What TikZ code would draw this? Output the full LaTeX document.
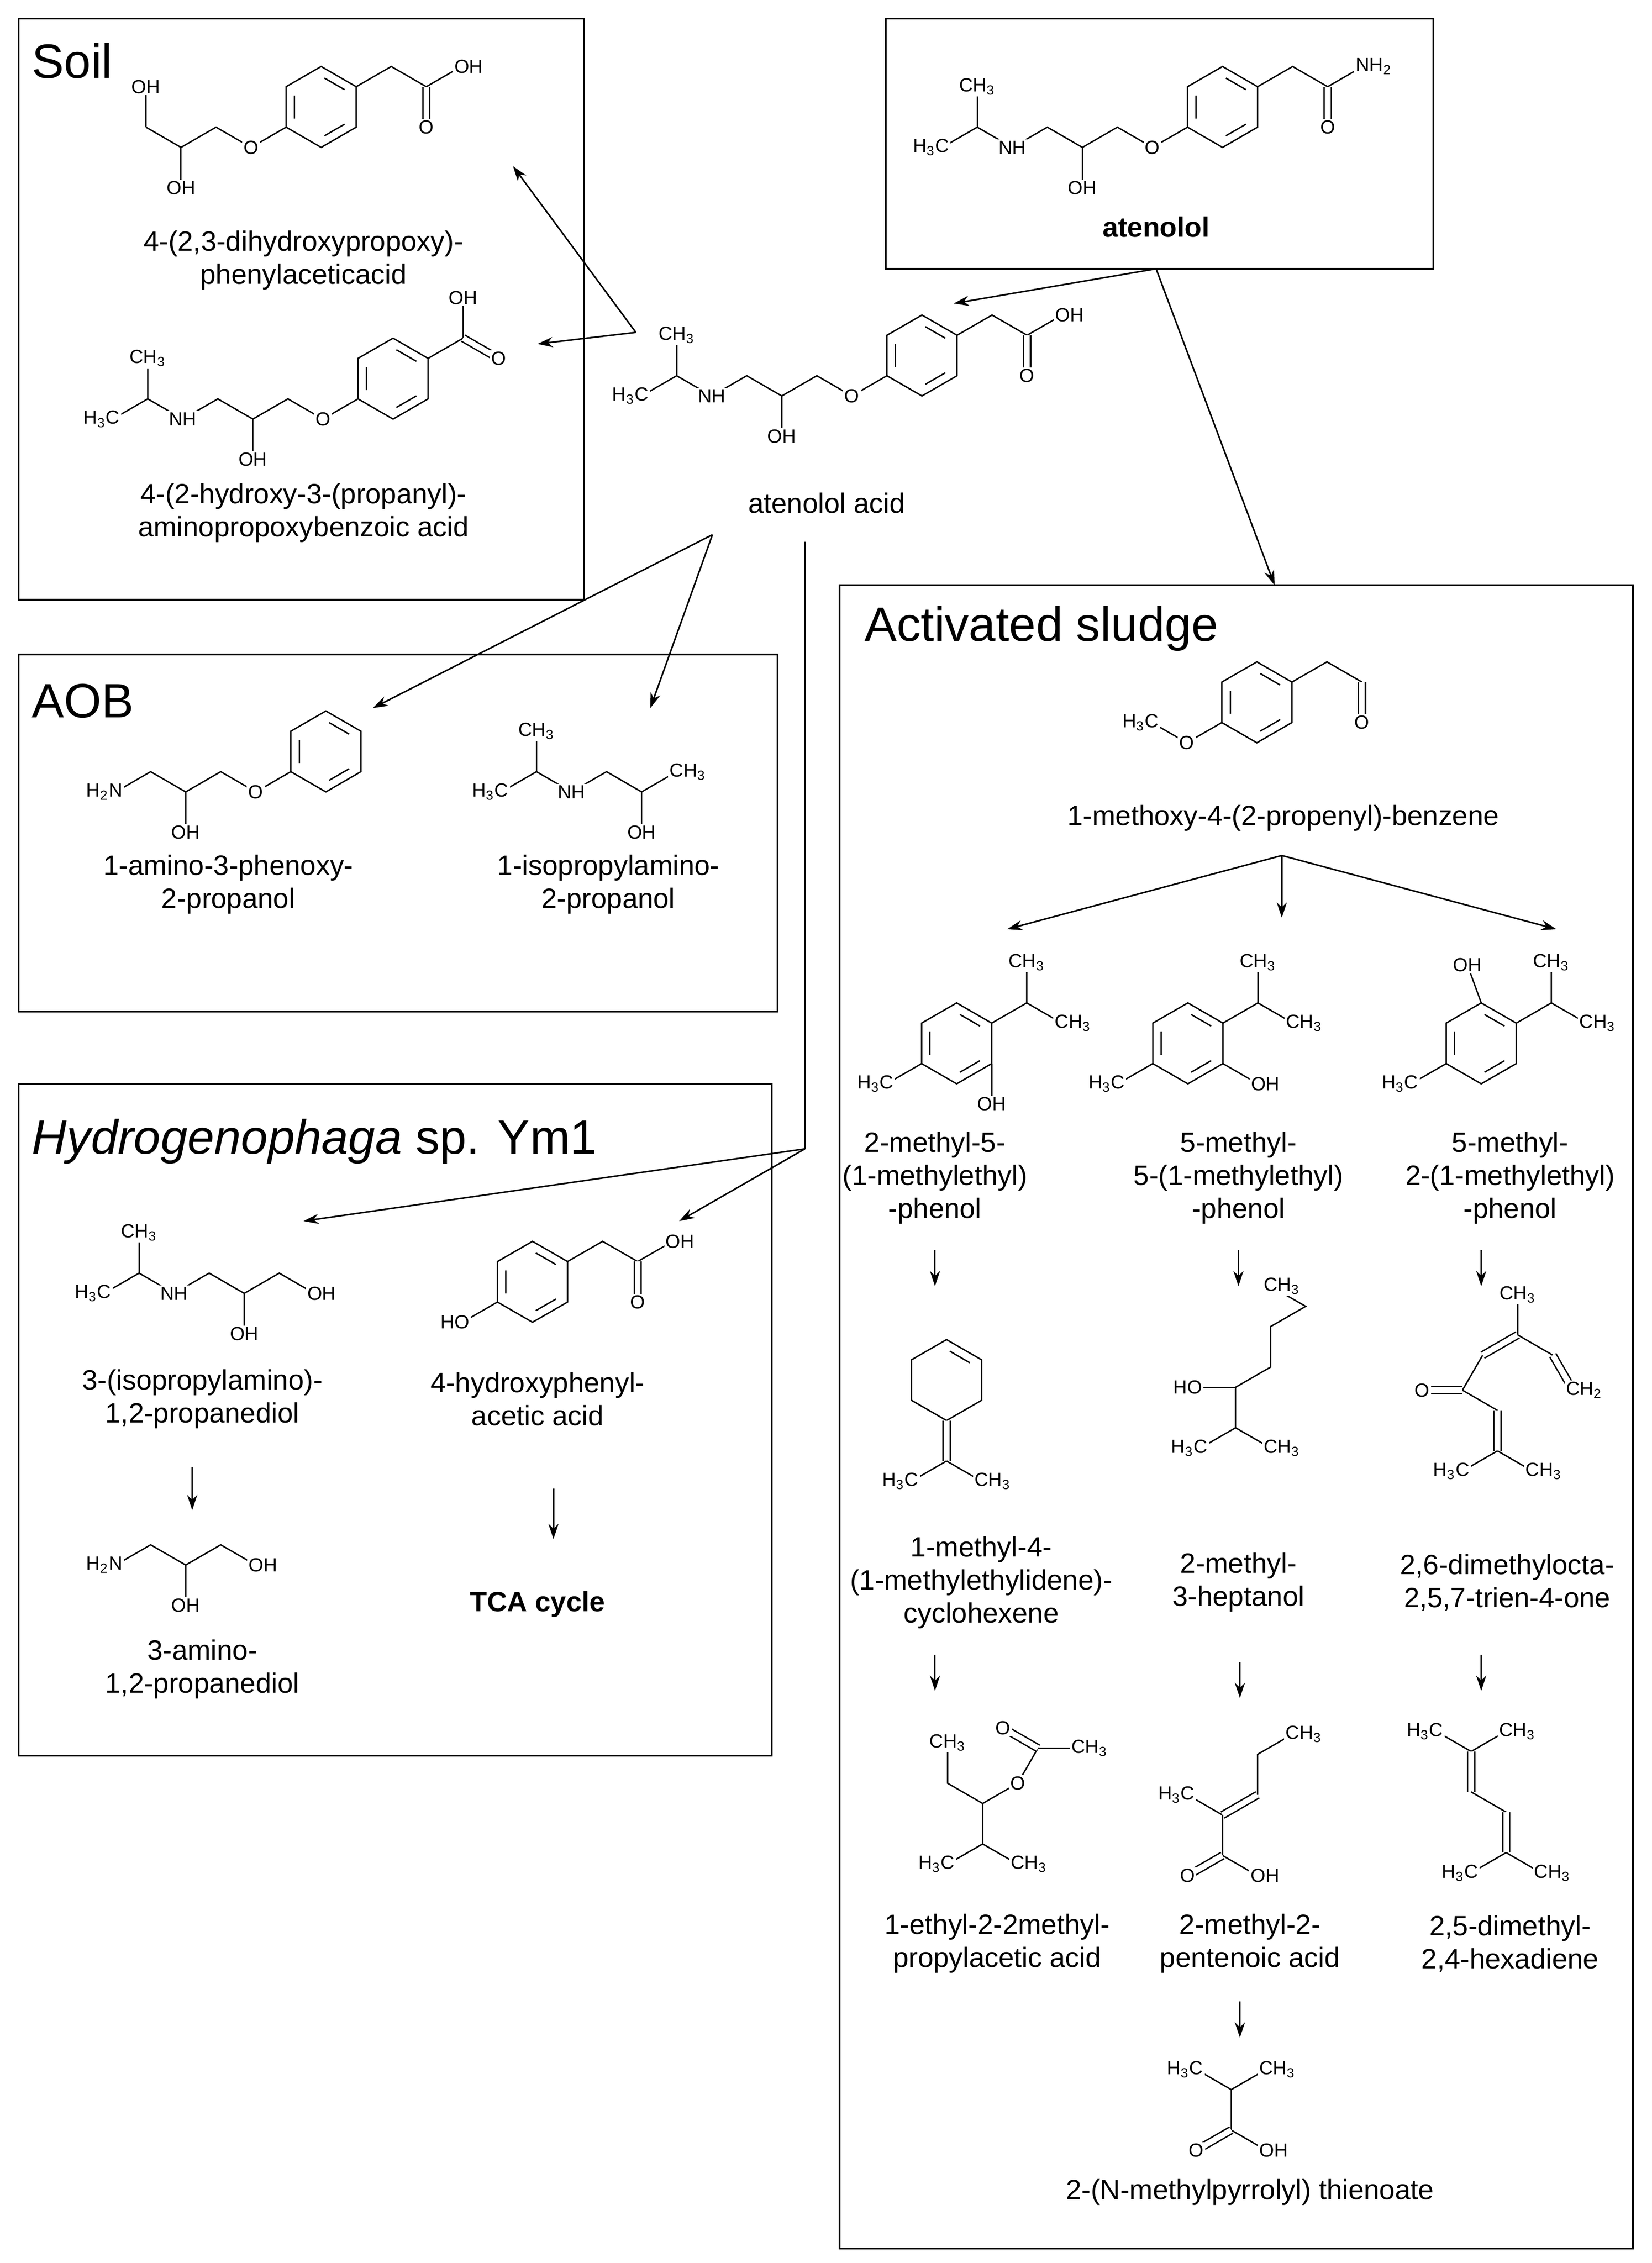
\documentclass[tikz,border=0pt]{standalone}
\usepackage{fontspec}
\setmainfont{Liberation Sans}
\usetikzlibrary{arrows.meta,calc}
\def\L{28}
\newcommand\ring[2]{%
 \foreach \k in {1,...,6}{\coordinate (#1-\k) at ($(#1)+({30+60*(\k-1)}:28)$);}
 \draw (#1-1)--(#1-2)--(#1-3)--(#1-4)--(#1-5)--(#1-6)--cycle;
 \foreach \i/\j in {#2}{\draw[shorten <=1.5pt,shorten >=1.5pt] ($(#1)!0.76!(#1-\i)$) -- ($(#1)!0.76!(#1-\j)$);}}
\newcommand\dbl[2]{\draw[double,double distance=2.2pt] (#1) -- (#2);}
\newcommand\at[3][]{\node[atm,#1] at (#2) {#3};}
\newcommand\ipa[1]{\draw (0,0) coordinate(#11) -- ++(30:\L) coordinate(#12) -- ++(-30:\L) coordinate(#13) -- ++(30:\L) coordinate(#14) -- ++(-30:\L) coordinate(#15); \draw (#12) -- ++(90:\L) coordinate(#19);}
\newcommand\ipalab[1]{\at[lt]{#11}{H\textsubscript{3}C}\at{#19}{CH\textsubscript{3}}\at{#13}{NH}}
\newcommand\hh{H\textsubscript{3}C}
\newcommand\ch{CH\textsubscript{3}}
\begin{document}
\begin{tikzpicture}[x=0.02cm,y=-0.02cm,
  box/.style={draw,line width=0.7pt},
  lbl/.style={align=center,font=\fontsize{11}{13}\selectfont},
  ttl/.style={anchor=west,font=\fontsize{19}{21}\selectfont},
  atm/.style={fill=white,inner sep=0.6pt,font=\fontsize{7.5}{8}\selectfont},
  lt/.style={anchor=east,xshift=3.6pt},
  rt/.style={anchor=west,xshift=-3.6pt},
  mol/.style={shift={#1},y=0.02cm,line width=0.55pt},
  arr/.style={-{Stealth[length=6pt,width=4pt]},line width=0.6pt}]
\useasboundingbox (0,0) rectangle (1143,1566);
% boxes
\draw[box] (13,13) rectangle (404,415);
\draw[box] (613,13) rectangle (992,186);
\draw[box] (13,453) rectangle (538,700);
\draw[box] (13,750) rectangle (534,1215);
\draw[box] (581,405) rectangle (1130,1556);
% titles
\node[ttl] (tsoil) at (16,42) {Soil};
\node[ttl] (taob) at (16,485) {AOB};
\node[ttl] (thyd) at (16,790) {\textit{Hydrogenophaga} sp. Ym1};
\node[ttl] (tas) at (592,435) {Activated sludge};
% atenolol
\begin{scope}[mol={(652,102)}]
\ipa{A}
\draw (A5) -- ++(30:\L) coordinate(A6) -- ++(-30:\L) coordinate(A7) -- ++(30:\L) coordinate(A8);
\draw (A5) -- ++(-90:\L) coordinate(A10);
\coordinate (AR) at ($(A8)+(30:\L)$); \ring{AR}{1/2,3/4,5/6}
\draw (AR-1) -- ++(30:\L) coordinate(A11) -- ++(-30:\L) coordinate(A12) -- ++(30:\L) coordinate(A13);
\coordinate (A14) at ($(A12)+(-90:\L)$); \dbl{A12}{A14}
\ipalab{A}\at{A10}{OH}\at{A7}{O}\at{A14}{O}\at[rt]{A13}{NH\textsubscript{2}}
\end{scope}
\node[lbl,font=\fontsize{11}{13}\selectfont\bfseries] (l1) at (800,157) {atenolol};
% atenolol acid
\begin{scope}[mol={(444,274)}]
\ipa{B}
\draw (B5) -- ++(30:\L) coordinate(B6) -- ++(-30:\L) coordinate(B7) -- ++(30:\L) coordinate(B8);
\draw (B5) -- ++(-90:\L) coordinate(B10);
\coordinate (BR) at ($(B8)+(30:\L)$); \ring{BR}{1/2,3/4,5/6}
\draw (BR-1) -- ++(30:\L) coordinate(B11) -- ++(-30:\L) coordinate(B12) -- ++(30:\L) coordinate(B13);
\coordinate (B14) at ($(B12)+(-90:\L)$); \dbl{B12}{B14}
\ipalab{B}\at{B10}{OH}\at{B7}{O}\at{B14}{O}\at[rt]{B13}{OH}
\end{scope}
\node[lbl] (l2) at (572,348) {atenolol acid};
% soil 1
\begin{scope}[mol={(101,88)}]
\draw (0,0) coordinate(D1) -- ++(-30:\L) coordinate(D2) -- ++(30:\L) coordinate(D3) -- ++(-30:\L) coordinate(D4) -- ++(30:\L) coordinate(D5);
\draw (D1) -- ++(90:\L) coordinate(D0);
\draw (D2) -- ++(-90:\L) coordinate(D6);
\coordinate (DR) at ($(D5)+(30:\L)$); \ring{DR}{1/2,3/4,5/6}
\draw (DR-1) -- ++(30:\L) coordinate(D11) -- ++(-30:\L) coordinate(D12) -- ++(30:\L) coordinate(D13);
\coordinate (D14) at ($(D12)+(-90:\L)$); \dbl{D12}{D14}
\at{D0}{OH}\at{D6}{OH}\at{D4}{O}\at{D14}{O}\at[rt]{D13}{OH}
\end{scope}
\node[lbl] (ls1) at (210,180) {4-(2,3-dihydroxypropoxy)-\\phenylaceticacid};
% soil 2
\begin{scope}[mol={(78,290)}]
\ipa{C}
\draw (C5) -- ++(30:\L) coordinate(C6) -- ++(-30:\L) coordinate(C7) -- ++(30:\L) coordinate(C8);
\draw (C5) -- ++(-90:\L) coordinate(C10);
\coordinate (CR) at ($(C8)+(30:\L)$); \ring{CR}{1/2,3/4,5/6}
\draw (CR-1) -- ++(30:\L) coordinate(C11) -- ++(90:\L) coordinate(C13);
\coordinate (C12) at ($(C11)+(-30:\L)$); \dbl{C11}{C12}
\ipalab{C}\at{C10}{OH}\at{C7}{O}\at[rt]{C12}{O}\at{C13}{OH}
\end{scope}
\node[lbl] (ls2) at (210,355) {4-(2-hydroxy-3-(propanyl)-\\aminopropoxybenzoic acid};
% AOB 1
\begin{scope}[mol={(80,548)}]
\draw (0,0) coordinate(E1) -- ++(30:\L) coordinate(E2) -- ++(-30:\L) coordinate(E3) -- ++(30:\L) coordinate(E4) -- ++(-30:\L) coordinate(E5) -- ++(30:\L) coordinate(E6);
\draw (E3) -- ++(-90:\L) coordinate(E7);
\coordinate (ER) at ($(E6)+(30:\L)$); \ring{ER}{1/2,3/4,5/6}
\at[lt]{E1}{H\textsubscript{2}N}\at{E7}{OH}\at{E5}{O}
\end{scope}
\node[lbl] (la1) at (158,612) {1-amino-3-phenoxy-\\2-propanol};
% AOB 2
\begin{scope}[mol={(347,548)}]
\ipa{F}
\draw (F5) -- ++(30:\L) coordinate(F6);
\draw (F5) -- ++(-90:\L) coordinate(F7);
\ipalab{F}\at[rt]{F6}{\ch}\at{F7}{OH}
\end{scope}
\node[lbl] (la2) at (421,612) {1-isopropylamino-\\2-propanol};
% Hydrogenophaga 1
\begin{scope}[mol={(72,895)}]
\ipa{G}
\draw (G5) -- ++(-90:\L) coordinate(G7);
\draw (G5) -- ++(30:\L) coordinate(G6) -- ++(-30:\L) coordinate(G8);
\ipalab{G}\at{G7}{OH}\at[rt]{G8}{OH}
\end{scope}
\node[lbl] (lh1) at (140,968) {3-(isopropylamino)-\\1,2-propanediol};
% Hydrogenophaga 2
\begin{scope}[mol={(320,915)}]
\coordinate (H1) at (0,0); \coordinate (H2) at (30:\L); \draw (H1) -- (H2);
\coordinate (HR) at ($(H2)+(30:\L)$); \ring{HR}{1/2,3/4,5/6}
\draw (HR-1) -- ++(30:\L) coordinate(H11) -- ++(-30:\L) coordinate(H12) -- ++(30:\L) coordinate(H13);
\coordinate (H14) at ($(H12)+(-90:\L)$); \dbl{H12}{H14}
\at[lt]{H1}{HO}\at{H14}{O}\at[rt]{H13}{OH}
\end{scope}
\node[lbl] (lh2) at (372,968) {4-hydroxyphenyl-\\acetic acid};
% Hydrogenophaga 3
\begin{scope}[mol={(80,1083)}]
\draw (0,0) coordinate(I1) -- ++(30:\L) coordinate(I2) -- ++(-30:\L) coordinate(I3) -- ++(30:\L) coordinate(I4) -- ++(-30:\L) coordinate(I5);
\draw (I3) -- ++(-90:\L) coordinate(I6);
\at[lt]{I1}{H\textsubscript{2}N}\at{I6}{OH}\at[rt]{I5}{OH}
\end{scope}
\node[lbl] (lh3) at (140,1155) {3-amino-\\1,2-propanediol};
\node[lbl,font=\fontsize{11}{13}\selectfont\bfseries] (tca) at (372,1110) {TCA cycle};
% activated sludge top
\begin{scope}[mol={(797,500)}]
\draw (0,0) coordinate(J1) -- ++(-30:\L) coordinate(J2) -- ++(30:\L) coordinate(J3);
\coordinate (JR) at ($(J3)+(30:\L)$); \ring{JR}{1/2,3/4,5/6}
\draw (JR-1) -- ++(30:\L) coordinate(J4) -- ++(-30:\L) coordinate(J5);
\coordinate (J6) at ($(J5)+(-90:\L)$); \dbl{J5}{J6}
\at[lt]{J1}{\hh}\at{J2}{O}\at{J6}{O}
\end{scope}
\node[lbl] (lt0) at (888,566) {1-methoxy-4-(2-propenyl)-benzene};
% phenol 1
\begin{scope}[mol={(662,722)}]
\coordinate (K0) at (0,0); \ring{K0}{1/2,3/4,5/6}
\draw (K0-1) -- ++(30:\L) coordinate(K1) -- ++(90:\L) coordinate(K2);
\draw (K1) -- ++(-30:\L) coordinate(K3);
\draw (K0-4) -- ++(210:\L) coordinate(K4);
\draw (K0-6) -- ++(-90:\L) coordinate(K5);
\at{K2}{\ch}\at[rt]{K3}{\ch}\at[lt]{K4}{\hh}\at{K5}{OH}
\end{scope}
\node[lbl] (lp1) at (647,815) {2-methyl-5-\\(1-methylethyl)\\-phenol};
% phenol 2
\begin{scope}[mol={(822,722)}]
\coordinate (L0) at (0,0); \ring{L0}{1/2,3/4,5/6}
\draw (L0-1) -- ++(30:\L) coordinate(L1) -- ++(90:\L) coordinate(L2);
\draw (L1) -- ++(-30:\L) coordinate(L3);
\draw (L0-4) -- ++(210:\L) coordinate(L4);
\draw (L0-6) -- ++(-30:\L) coordinate(L5);
\at{L2}{\ch}\at[rt]{L3}{\ch}\at[lt]{L4}{\hh}\at[rt]{L5}{OH}
\end{scope}
\node[lbl] (lp2) at (857,815) {5-methyl-\\5-(1-methylethyl)\\-phenol};
% phenol 3
\begin{scope}[mol={(1025,722)}]
\coordinate (M0) at (0,0); \ring{M0}{1/2,3/4,5/6}
\draw (M0-1) -- ++(30:\L) coordinate(M1) -- ++(90:\L) coordinate(M2);
\draw (M1) -- ++(-30:\L) coordinate(M3);
\draw (M0-4) -- ++(210:\L) coordinate(M4);
\draw (M0-2) -- ++(110:\L) coordinate(M5);
\at{M2}{\ch}\at[rt]{M3}{\ch}\at[lt]{M4}{\hh}\at{M5}{OH}
\end{scope}
\node[lbl] (lp3) at (1045,815) {5-methyl-\\2-(1-methylethyl)\\-phenol};
% cyclohexene
\begin{scope}[mol={(655,955)}]
\coordinate (N0) at (0,0); \ring{N0}{1/2}
\coordinate (N1) at ($(N0-5)+(-90:\L)$); \dbl{N0-5}{N1}
\draw (N1) -- ++(210:\L) coordinate(N2);
\draw (N1) -- ++(-30:\L) coordinate(N3);
\at[lt]{N2}{\hh}\at[rt]{N3}{\ch}
\end{scope}
\node[lbl] (lc1) at (679,1095) {1-methyl-4-\\(1-methylethylidene)-\\cyclohexene};
% heptanol
\begin{scope}[mol={(855,960)}]
\coordinate (O1) at (0,0);
\draw (O1) -- ++(180:\L) coordinate(O2);
\draw (O1) -- ++(-90:\L) coordinate(O3) -- ++(210:\L) coordinate(O4);
\draw (O3) -- ++(-30:\L) coordinate(O5);
\draw (O1) -- ++(30:\L) coordinate(O6) -- ++(90:\L) coordinate(O7) -- ++(30:\L) coordinate(O8) -- ++(150:\L) coordinate(O9);
\at[lt]{O2}{HO}\at[lt]{O4}{\hh}\at[rt]{O5}{\ch}\at[rt]{O9}{\ch}
\end{scope}
\node[lbl] (lc2) at (857,1095) {2-methyl-\\3-heptanol};
% trienone
\begin{scope}[mol={(1012,962)}]
\coordinate (Q0) at (0,0);
\coordinate (QO) at (180:\L); \dbl{Q0}{QO}
\draw (Q0) -- ++(60:\L) coordinate(Q1);
\coordinate (Q2) at ($(Q1)+(30:\L)$); \dbl{Q1}{Q2}
\draw (Q2) -- ++(90:\L) coordinate(Q9);
\draw (Q2) -- ++(-30:\L) coordinate(Q3);
\coordinate (Q4) at ($(Q3)+(-60:\L)$); \dbl{Q3}{Q4}
\draw (Q0) -- ++(-30:\L) coordinate(Q5);
\coordinate (Q6) at ($(Q5)+(-90:\L)$); \dbl{Q5}{Q6}
\draw (Q6) -- ++(210:\L) coordinate(Q7);
\draw (Q6) -- ++(-30:\L) coordinate(Q8);
\at{QO}{O}\at{Q9}{\ch}\at[rt]{Q4}{CH\textsubscript{2}}\at[lt]{Q7}{\hh}\at[rt]{Q8}{\ch}
\end{scope}
\node[lbl] (lc3) at (1043,1095) {2,6-dimethylocta-\\2,5,7-trien-4-one};
% ester
\begin{scope}[mol={(680,1248)}]
\coordinate (R0) at (0,0);
\draw (R0) -- ++(150:\L) coordinate(R1) -- ++(90:\L) coordinate(R2);
\draw (R0) -- ++(30:\L) coordinate(R3) -- ++(60:\L) coordinate(R4) -- ++(0:\L) coordinate(R5);
\coordinate (R6) at ($(R4)+(150:\L)$); \dbl{R4}{R6}
\draw (R0) -- ++(-90:\L) coordinate(R7) -- ++(210:\L) coordinate(R8);
\draw (R7) -- ++(-30:\L) coordinate(R9);
\at{R2}{\ch}\at{R3}{O}\at{R6}{O}\at[rt]{R5}{\ch}\at[lt]{R8}{\hh}\at[rt]{R9}{\ch}
\end{scope}
\node[lbl] (ld1) at (690,1345) {1-ethyl-2-2methyl-\\propylacetic acid};
% pentenoic
\begin{scope}[mol={(846,1256)}]
\coordinate (S0) at (0,0);
\draw (S0) -- ++(150:\L) coordinate(S1);
\coordinate (S2) at (30:\L); \dbl{S0}{S2}
\draw (S2) -- ++(90:\L) coordinate(S3) -- ++(30:\L) coordinate(S4);
\draw (S0) -- ++(-90:\L) coordinate(S5) -- ++(-30:\L) coordinate(S7);
\coordinate (S6) at ($(S5)+(210:\L)$); \dbl{S5}{S6}
\at[lt]{S1}{\hh}\at[rt]{S4}{\ch}\at{S6}{O}\at[rt]{S7}{OH}
\end{scope}
\node[lbl] (ld2) at (865,1345) {2-methyl-2-\\pentenoic acid};
% hexadiene
\begin{scope}[mol={(1018,1212)}]
\coordinate (T0) at (0,0);
\draw (T0) -- ++(150:\L) coordinate(T1);
\draw (T0) -- ++(30:\L) coordinate(T2);
\coordinate (T3) at (-90:\L); \dbl{T0}{T3}
\draw (T3) -- ++(-30:\L) coordinate(T4);
\coordinate (T5) at ($(T4)+(-90:\L)$); \dbl{T4}{T5}
\draw (T5) -- ++(210:\L) coordinate(T6);
\draw (T5) -- ++(-30:\L) coordinate(T7);
\at[lt]{T1}{\hh}\at[rt]{T2}{\ch}\at[lt]{T6}{\hh}\at[rt]{T7}{\ch}
\end{scope}
\node[lbl] (ld3) at (1045,1345) {2,5-dimethyl-\\2,4-hexadiene};
% isobutyric
\begin{scope}[mol={(852,1446)}]
\coordinate (U0) at (0,0);
\draw (U0) -- ++(150:\L) coordinate(U1);
\draw (U0) -- ++(30:\L) coordinate(U2);
\draw (U0) -- ++(-90:\L) coordinate(U3) -- ++(-30:\L) coordinate(U5);
\coordinate (U4) at ($(U3)+(210:\L)$); \dbl{U3}{U4}
\at[lt]{U1}{\hh}\at[rt]{U2}{\ch}\at{U4}{O}\at[rt]{U5}{OH}
\end{scope}
\node[lbl] (le1) at (865,1517) {2-(N-methylpyrrolyl) thienoate};
% connector points
\coordinate (atb) at (800,186);
\coordinate (aa1) at (660,210);
\coordinate (asl) at (882,405);
\coordinate (sp) at (440,230);
\coordinate (s1e) at (355,115);
\coordinate (s2e) at (372,238);
\coordinate (ap) at (493,370);
\coordinate (a1e) at (258,490);
\coordinate (a2e) at (450,490);
\coordinate (vt) at (557,375);
\coordinate (vb) at (557,795);
\coordinate (h1e) at (210,845);
\coordinate (h2e) at (470,845);
\coordinate (tp) at (887,592);
\draw[arr] (atb) -- (aa1);
\draw[arr] (atb) -- (asl);
\draw[arr] (sp) -- (s1e);
\draw[arr] (sp) -- (s2e);
\draw[arr] (ap) -- (a1e);
\draw[arr] (ap) -- (a2e);
\draw[line width=0.6pt] (vt) -- (vb);
\draw[arr] (vb) -- (h1e);
\draw[arr] (vb) -- (h2e);
\draw[arr] (tp) -- (697,643);
\draw[arr] (tp) -- (887,635);
\draw[arr] (tp) -- (1077,643);
\foreach \x/\a/\b in {133/1015/1045,383/1030/1065,647/865/890,857/865/890,1025/865/890,647/1145/1170,858/1150/1175,1025/1145/1170,858/1385/1410}
  \draw[arr] (\x,\a) -- (\x,\b);
\end{tikzpicture}
\end{document}
